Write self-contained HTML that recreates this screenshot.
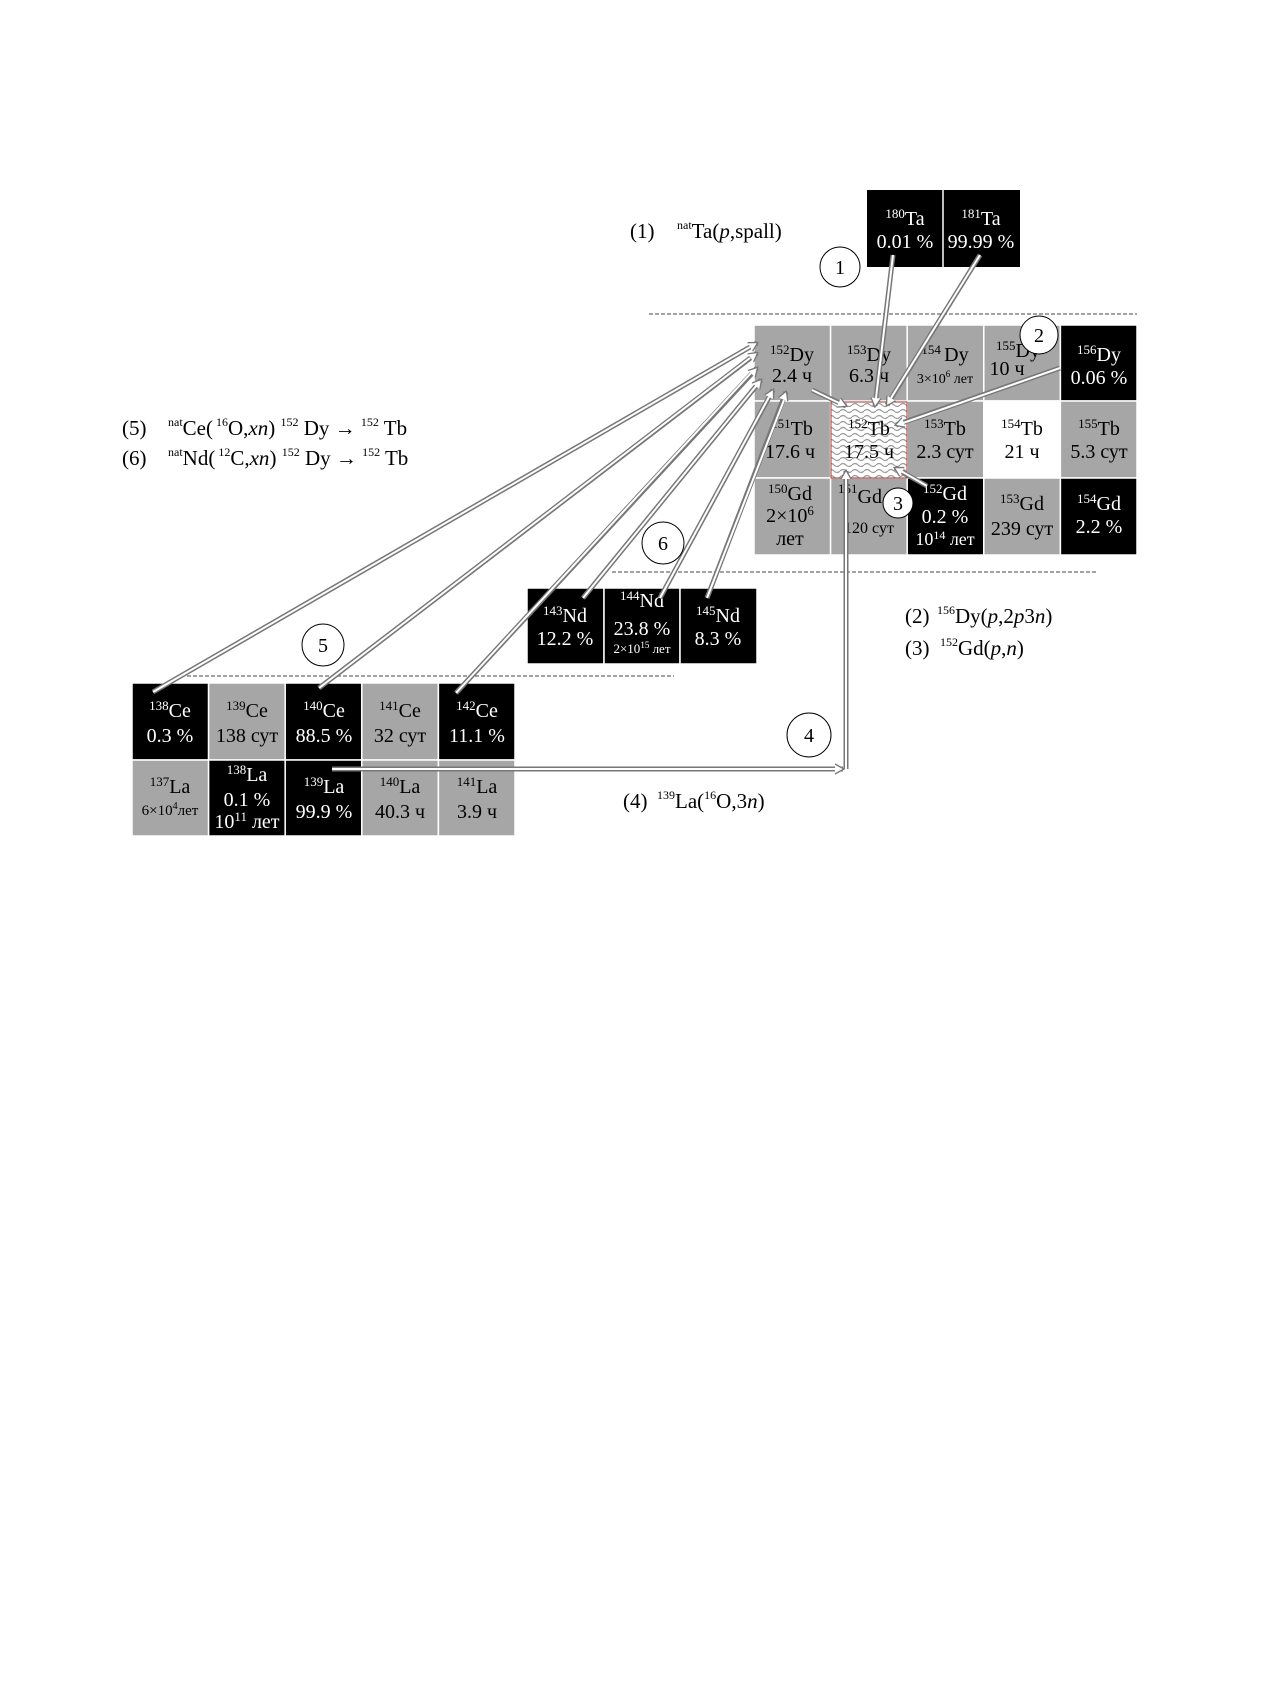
<!DOCTYPE html>
<html><head><meta charset="utf-8">
<style>
html,body{margin:0;padding:0;background:#fff;}
svg{display:block;}
text{font-family:"Liberation Serif",serif;}
</style></head>
<body>
<svg width="1270" height="1683" viewBox="0 0 1270 1683" xmlns="http://www.w3.org/2000/svg">
<defs>
<pattern id="wave" width="12" height="6" patternUnits="userSpaceOnUse">
<rect width="12" height="6" fill="#fff"/>
<path d="M0,3 Q3,0 6,3 T12,3" fill="none" stroke="#999" stroke-width="1.2"/>
</pattern>
<marker id="ah" markerWidth="12" markerHeight="12" refX="9" refY="6" orient="auto" markerUnits="userSpaceOnUse">
<path d="M1,1 L10,6 L1,11" fill="#fff" stroke="#777" stroke-width="1.3"/>
</marker>
</defs>

<g stroke="#444" stroke-width="1" stroke-dasharray="4,2">
<line x1="649" y1="314" x2="1137" y2="314"/>
<line x1="612" y1="572" x2="1098" y2="572"/>
<line x1="187" y1="676" x2="674" y2="676"/>
</g>

<rect x="867" y="190" width="153" height="77" fill="#000"/>
<line x1="943" y1="190" x2="943" y2="267" stroke="#fff" stroke-width="1.5"/>
<g fill="#fff" font-size="20" text-anchor="middle">
<text x="905" y="225"><tspan font-size="13" dy="-7">180</tspan><tspan dy="7">Ta</tspan></text>
<text x="905" y="248">0.01 %</text>
<text x="981" y="225"><tspan font-size="13" dy="-7">181</tspan><tspan dy="7">Ta</tspan></text>
<text x="981" y="248">99.99 %</text>
</g>

<g stroke="#fff" stroke-width="1.5">
<rect x="754" y="325" width="76.6" height="76" fill="#a6a6a6"/>
<rect x="830.6" y="325" width="76.6" height="76" fill="#a6a6a6"/>
<rect x="907.2" y="325" width="76.6" height="76" fill="#a6a6a6"/>
<rect x="983.8" y="325" width="76.6" height="76" fill="#a6a6a6"/>
<rect x="1060.4" y="325" width="76.6" height="76" fill="#000"/>
<rect x="754" y="401" width="76.6" height="77" fill="#a6a6a6"/>
<rect x="907.2" y="401" width="76.6" height="77" fill="#a6a6a6"/>
<rect x="983.8" y="401" width="76.6" height="77" fill="#fff"/>
<rect x="1060.4" y="401" width="76.6" height="77" fill="#a6a6a6"/>
<rect x="754" y="478" width="76.6" height="77" fill="#a6a6a6"/>
<rect x="830.6" y="478" width="76.6" height="77" fill="#a6a6a6"/>
<rect x="907.2" y="478" width="76.6" height="77" fill="#000"/>
<rect x="983.8" y="478" width="76.6" height="77" fill="#a6a6a6"/>
<rect x="1060.4" y="478" width="76.6" height="77" fill="#000"/>
</g>
<rect x="831" y="402" width="76" height="76" fill="url(#wave)" stroke="#a33" stroke-width="1"/>

<g font-size="20" text-anchor="middle">
<text x="792" y="361"><tspan font-size="13" dy="-7">152</tspan><tspan dy="7">Dy</tspan></text>
<text x="792" y="382">2.4 ч</text>
<text x="869" y="361"><tspan font-size="13" dy="-7">153</tspan><tspan dy="7">Dy</tspan></text>
<text x="869" y="382">6.3 ч</text>
<text x="945" y="361"><tspan font-size="13" dy="-7">154 </tspan><tspan dy="7">Dy</tspan></text>
<text x="945" y="383" font-size="14">3×10<tspan font-size="9" dy="-6">6</tspan><tspan dy="6"> лет</tspan></text>
<text x="1018" y="357"><tspan font-size="13" dy="-7">155</tspan><tspan dy="7">Dy</tspan></text>
<text x="1007" y="375">10 ч</text>
<g fill="#fff">
<text x="1099" y="361"><tspan font-size="13" dy="-7">156</tspan><tspan dy="7">Dy</tspan></text>
<text x="1099" y="384">0.06 %</text>
</g>
<text x="792" y="435"><tspan font-size="13" dy="-7">151</tspan><tspan dy="7">Tb</tspan></text>
<text x="790" y="458">17.6 ч</text>
<text x="869" y="435"><tspan font-size="13" dy="-7">152</tspan><tspan dy="7">Tb</tspan></text>
<text x="869" y="458">17.5 ч</text>
<text x="945" y="435"><tspan font-size="13" dy="-7">153</tspan><tspan dy="7">Tb</tspan></text>
<text x="945" y="458">2.3 сут</text>
<text x="1022" y="435"><tspan font-size="13" dy="-7">154</tspan><tspan dy="7">Tb</tspan></text>
<text x="1022" y="458">21 ч</text>
<text x="1099" y="435"><tspan font-size="13" dy="-7">155</tspan><tspan dy="7">Tb</tspan></text>
<text x="1099" y="458">5.3 сут</text>
<text x="790" y="500"><tspan font-size="13" dy="-7">150</tspan><tspan dy="7">Gd</tspan></text>
<text x="790" y="522">2×10<tspan font-size="13" dy="-7">6</tspan></text>
<text x="790" y="545">лет</text>
<text x="860" y="503"><tspan font-size="13" dy="-10">151</tspan><tspan dy="10">Gd</tspan></text>
<text x="869" y="533" font-size="16">120 сут</text>
<g fill="#fff">
<text x="945" y="500"><tspan font-size="13" dy="-7">152</tspan><tspan dy="7">Gd</tspan></text>
<text x="945" y="523">0.2 %</text>
<text x="945" y="545" font-size="18">10<tspan font-size="12" dy="-6">14</tspan><tspan dy="6"> лет</tspan></text>
</g>
<text x="1022" y="510"><tspan font-size="13" dy="-7">153</tspan><tspan dy="7">Gd</tspan></text>
<text x="1022" y="535">239 сут</text>
<g fill="#fff">
<text x="1099" y="510"><tspan font-size="13" dy="-7">154</tspan><tspan dy="7">Gd</tspan></text>
<text x="1099" y="533">2.2 %</text>
</g>
</g>

<g stroke="#fff" stroke-width="1.5" fill="#000">
<rect x="527" y="588" width="77" height="76"/>
<rect x="604" y="588" width="76" height="76"/>
<rect x="680" y="588" width="77" height="76"/>
</g>
<g fill="#fff" font-size="20" text-anchor="middle">
<text x="565" y="622"><tspan font-size="13" dy="-7">143</tspan><tspan dy="7">Nd</tspan></text>
<text x="565" y="645">12.2 %</text>
<text x="642" y="607"><tspan font-size="13" dy="-7">144</tspan><tspan dy="7">Nd</tspan></text>
<text x="642" y="635">23.8 %</text>
<text x="642" y="653" font-size="13">2×10<tspan font-size="9" dy="-5">15</tspan><tspan dy="5"> лет</tspan></text>
<text x="718" y="622"><tspan font-size="13" dy="-7">145</tspan><tspan dy="7">Nd</tspan></text>
<text x="718" y="645">8.3 %</text>
</g>

<g stroke="#fff" stroke-width="1.5">
<rect x="132" y="683" width="76.6" height="77" fill="#000"/>
<rect x="208.6" y="683" width="76.6" height="77" fill="#a6a6a6"/>
<rect x="285.2" y="683" width="76.6" height="77" fill="#000"/>
<rect x="361.8" y="683" width="76.6" height="77" fill="#a6a6a6"/>
<rect x="438.4" y="683" width="76.6" height="77" fill="#000"/>
<rect x="132" y="760" width="76.6" height="76" fill="#a6a6a6"/>
<rect x="208.6" y="760" width="76.6" height="76" fill="#000"/>
<rect x="285.2" y="760" width="76.6" height="76" fill="#000"/>
<rect x="361.8" y="760" width="76.6" height="76" fill="#a6a6a6"/>
<rect x="438.4" y="760" width="76.6" height="76" fill="#a6a6a6"/>
</g>
<g font-size="20" text-anchor="middle">
<g fill="#fff">
<text x="170" y="717"><tspan font-size="13" dy="-7">138</tspan><tspan dy="7">Ce</tspan></text>
<text x="170" y="742">0.3 %</text>
<text x="324" y="717"><tspan font-size="13" dy="-7">140</tspan><tspan dy="7">Ce</tspan></text>
<text x="324" y="742">88.5 %</text>
<text x="477" y="717"><tspan font-size="13" dy="-7">142</tspan><tspan dy="7">Ce</tspan></text>
<text x="477" y="742">11.1 %</text>
<text x="247" y="781"><tspan font-size="13" dy="-7">138</tspan><tspan dy="7">La</tspan></text>
<text x="247" y="806">0.1 %</text>
<text x="247" y="828">10<tspan font-size="13" dy="-7">11</tspan><tspan dy="7"> лет</tspan></text>
<text x="324" y="793"><tspan font-size="13" dy="-7">139</tspan><tspan dy="7">La</tspan></text>
<text x="324" y="818">99.9 %</text>
</g>
<text x="247" y="717"><tspan font-size="13" dy="-7">139</tspan><tspan dy="7">Ce</tspan></text>
<text x="247" y="742">138 сут</text>
<text x="400" y="717"><tspan font-size="13" dy="-7">141</tspan><tspan dy="7">Ce</tspan></text>
<text x="400" y="742">32 сут</text>
<text x="170" y="793"><tspan font-size="13" dy="-7">137</tspan><tspan dy="7">La</tspan></text>
<text x="170" y="815" font-size="15">6×10<tspan font-size="10" dy="-6">4</tspan><tspan dy="6">лет</tspan></text>
<text x="400" y="793"><tspan font-size="13" dy="-7">140</tspan><tspan dy="7">La</tspan></text>
<text x="400" y="818">40.3 ч</text>
<text x="477" y="793"><tspan font-size="13" dy="-7">141</tspan><tspan dy="7">La</tspan></text>
<text x="477" y="818">3.9 ч</text>
</g>

<g fill="none" stroke="#777" stroke-width="5" marker-end="url(#ah)">
<line x1="893" y1="255" x2="875" y2="406"/>
<line x1="980" y1="255" x2="887" y2="405"/>
<line x1="1060" y1="368" x2="896" y2="425"/>
<line x1="812" y1="390" x2="846" y2="406"/>
<line x1="927" y1="486" x2="895" y2="468"/>
<line x1="846" y1="769" x2="846" y2="471"/>
<line x1="153" y1="692" x2="757" y2="343"/>
<line x1="319" y1="688" x2="757" y2="353"/>
<line x1="456" y1="693" x2="757" y2="368"/>
<line x1="583" y1="598" x2="761" y2="380"/>
<line x1="660" y1="598" x2="773" y2="390"/>
<line x1="707" y1="598" x2="786" y2="392"/>
<polyline points="332,769 843,769"/>
</g>
<g fill="none" stroke="#fff" stroke-width="2">
<line x1="893" y1="255" x2="876" y2="398"/>
<line x1="980" y1="255" x2="891" y2="398"/>
<line x1="1060" y1="368" x2="903" y2="423"/>
<line x1="812" y1="390" x2="839" y2="403"/>
<line x1="927" y1="486" x2="901" y2="471"/>
<line x1="846" y1="769" x2="846" y2="479"/>
<line x1="153" y1="692" x2="750" y2="347"/>
<line x1="319" y1="688" x2="750" y2="358"/>
<line x1="456" y1="693" x2="751" y2="373"/>
<line x1="583" y1="598" x2="756" y2="386"/>
<line x1="660" y1="598" x2="769" y2="397"/>
<line x1="707" y1="598" x2="784" y2="400"/>
<line x1="332" y1="769" x2="836" y2="769"/>
</g>

<g fill="#fff" stroke="#000" stroke-width="1">
<circle cx="840" cy="267" r="20"/>
<circle cx="1039" cy="335" r="19"/>
<circle cx="898" cy="503" r="15"/>
<circle cx="663" cy="543" r="21"/>
<circle cx="323" cy="645" r="21"/>
<circle cx="809" cy="735" r="22"/>
</g>
<g font-size="20" text-anchor="middle">
<text x="840" y="274">1</text>
<text x="1039" y="342">2</text>
<text x="898" y="510">3</text>
<text x="663" y="550">6</text>
<text x="323" y="652">5</text>
<text x="809" y="742">4</text>
</g>

<g font-size="21">
<text x="630" y="238">(1)</text>
<text x="677" y="238"><tspan font-size="12" dy="-9">nat</tspan><tspan dy="9">Ta(</tspan><tspan font-style="italic">p</tspan>,spall)</text>
<text x="122" y="435">(5)</text>
<text x="168" y="435"><tspan font-size="12" dy="-9">nat</tspan><tspan dy="9">Ce(</tspan><tspan font-size="12" dy="-9"> 16</tspan><tspan dy="9">O,</tspan><tspan font-style="italic">xn</tspan>) <tspan font-size="12" dy="-9">152</tspan><tspan dy="9"> Dy → </tspan><tspan font-size="12" dy="-9">152</tspan><tspan dy="9"> Tb</tspan></text>
<text x="122" y="465">(6)</text>
<text x="168" y="465"><tspan font-size="12" dy="-9">nat</tspan><tspan dy="9">Nd(</tspan><tspan font-size="12" dy="-9"> 12</tspan><tspan dy="9">C,</tspan><tspan font-style="italic">xn</tspan>) <tspan font-size="12" dy="-9">152</tspan><tspan dy="9"> Dy → </tspan><tspan font-size="12" dy="-9">152</tspan><tspan dy="9"> Tb</tspan></text>
<text x="905" y="623">(2)</text>
<text x="937" y="623"><tspan font-size="12" dy="-9">156</tspan><tspan dy="9">Dy(</tspan><tspan font-style="italic">p</tspan>,2<tspan font-style="italic">p</tspan>3<tspan font-style="italic">n</tspan>)</text>
<text x="905" y="655">(3)</text>
<text x="940" y="655"><tspan font-size="12" dy="-9">152</tspan><tspan dy="9">Gd(</tspan><tspan font-style="italic">p</tspan>,<tspan font-style="italic">n</tspan>)</text>
<text x="623" y="808">(4)</text>
<text x="657" y="808"><tspan font-size="12" dy="-9">139</tspan><tspan dy="9">La(</tspan><tspan font-size="12" dy="-9">16</tspan><tspan dy="9">O,3</tspan><tspan font-style="italic">n</tspan>)</text>
</g>
</svg>
</body></html>
